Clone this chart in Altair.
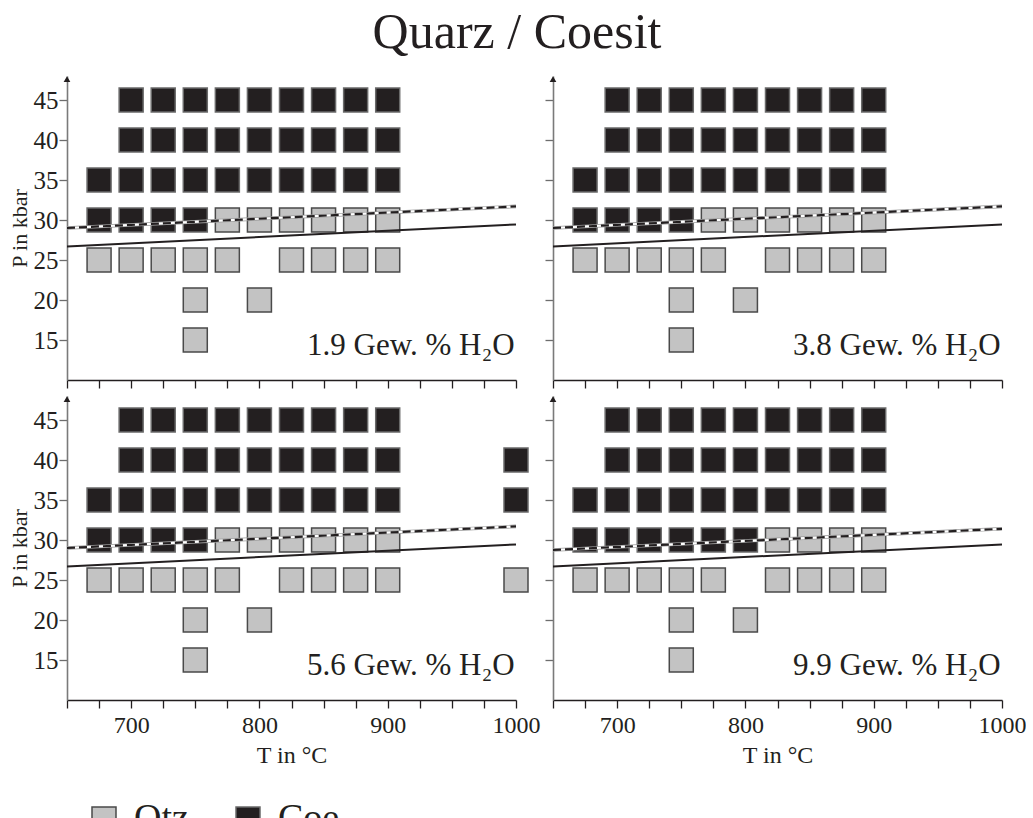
import altair as alt
import pandas as pd

FONT = "Liberation Serif"
INK = "#231f20"

# ---- data ----
PANEL_LABELS = ["1.9 Gew. % H₂O", "3.8 Gew. % H₂O", "5.6 Gew. % H₂O", "9.9 Gew. % H₂O"]

# common sample grid (T in °C for each pressure row)
COE_45 = [700, 725, 750, 775, 800, 825, 850, 875, 900]
COE_40 = [700, 725, 750, 775, 800, 825, 850, 875, 900]
COE_35 = [675, 700, 725, 750, 775, 800, 825, 850, 875, 900]
COE_30 = [675, 700, 725, 750]
QTZ_30 = [775, 800, 825, 850, 875, 900]
QTZ_25 = [675, 700, 725, 750, 775, 825, 850, 875, 900]
QTZ_20 = [750, 800]
QTZ_15 = [750]

# panel-specific differences
COE_40_EXTRA_56 = [1000]
COE_35_EXTRA_56 = [1000]
QTZ_25_EXTRA_56 = [1000]
COE_30_99 = [675, 700, 725, 750, 775, 800]
QTZ_30_99 = [825, 850, 875, 900]

# boundary lines (T endpoints, P endpoints per panel)
LINE_T = [650, 1000]
SOLID_P = [[26.7, 29.45], [26.7, 29.45], [26.7, 29.45], [26.7, 29.45]]
DASHED_P = [[29.0, 31.7], [29.0, 31.7], [29.0, 31.7], [28.75, 31.4]]

X_TICKS = [650, 675, 700, 725, 750, 775, 800, 825, 850, 875, 900, 925, 950, 975, 1000]
Y_TICKS = [15, 20, 25, 30, 35, 40, 45]
PHASES = ["Qtz", "Coe"]


def rows(phase, P, Ts):
    return [{"T": t, "P": P, "phase": phase} for t in Ts]


def panel_samples(i):
    recs = []
    recs += rows("Coe", 45, COE_45)
    recs += rows("Coe", 40, COE_40)
    recs += rows("Coe", 35, COE_35)
    if i == 3:
        recs += rows("Coe", 30, COE_30_99)
        recs += rows("Qtz", 30, QTZ_30_99)
    else:
        recs += rows("Coe", 30, COE_30)
        recs += rows("Qtz", 30, QTZ_30)
    recs += rows("Qtz", 25, QTZ_25)
    recs += rows("Qtz", 20, QTZ_20)
    recs += rows("Qtz", 15, QTZ_15)
    if i == 2:
        recs += rows("Coe", 40, COE_40_EXTRA_56)
        recs += rows("Coe", 35, COE_35_EXTRA_56)
        recs += rows("Qtz", 25, QTZ_25_EXTRA_56)
    return pd.DataFrame(recs)


XS = alt.Scale(domain=[650, 1000], nice=False, zero=False)
YS = alt.Scale(domain=[10, 48], nice=False, zero=False)

LEG = alt.Legend(title=None, orient="none", legendX=18, legendY=724,
                 direction="horizontal", symbolType="square",
                 symbolSize=576, symbolStrokeWidth=1.5,
                 labelFont=FONT, labelFontSize=38, labelColor=INK,
                 labelOffset=11, columnPadding=40, padding=0)


def make_panel(i, xlabels, ylabels):
    xaxis = alt.Axis(
        values=X_TICKS,
        labels=xlabels,
        format="d",
        labelFlush=False,
        labelExpr="datum.value % 100 == 0 && datum.value > 650 ? datum.label : ''",
        title="T in °C" if xlabels else None,
        tickColor=INK, domainColor=INK,
    )
    yaxis = alt.Axis(
        values=Y_TICKS,
        labels=ylabels,
        labelFlush=False,
        title="P in kbar" if ylabels else None,
        tickColor="#6d6d6d", domainColor="#7a7a7a", domainWidth=1.6,
    )
    X = alt.X("T:Q", scale=XS, axis=xaxis)
    Y = alt.Y("P:Q", scale=YS, axis=yaxis)
    sq = alt.Chart(panel_samples(i)).mark_square(size=576, opacity=1, strokeWidth=1.5).encode(
        x=X, y=Y,
        fill=alt.Fill("phase:N", scale=alt.Scale(domain=PHASES, range=["#c3c3c3", INK]), legend=LEG),
        stroke=alt.Stroke("phase:N", scale=alt.Scale(domain=PHASES, range=["#4a4a4a", "#6a6a6a"]), legend=LEG),
    )
    solid_df = pd.DataFrame({"T": LINE_T, "P": SOLID_P[i]})
    dash_df = pd.DataFrame({"T": LINE_T, "P": DASHED_P[i]})
    solid = alt.Chart(solid_df).mark_line(color=INK, strokeWidth=2).encode(x=X, y=Y)
    d_edge = alt.Chart(dash_df).mark_line(color="#9a9a9a", strokeWidth=3.6).encode(x=X, y=Y)
    d_white = alt.Chart(dash_df).mark_line(color="white", strokeWidth=2.2).encode(x=X, y=Y)
    d_black = alt.Chart(dash_df).mark_line(color=INK, strokeWidth=2.2, strokeDash=[8, 4]).encode(x=X, y=Y)
    arrow = alt.Chart(pd.DataFrame({"T": [650], "P": [47.6]})).mark_point(
        shape="triangle-up", filled=True, color=INK, size=45, opacity=1).encode(x=X, y=Y)
    label = alt.Chart(pd.DataFrame({"T": [999], "P": [13.1], "t": [PANEL_LABELS[i]]})).mark_text(
        align="right", baseline="alphabetic", font=FONT, fontSize=31, color=INK).encode(
        text="t:N", x=X, y=Y)
    return alt.layer(sq, solid, d_edge, d_white, d_black, arrow, label).properties(width=449, height=304)


chart = alt.concat(
    make_panel(0, False, True), make_panel(1, False, False),
    make_panel(2, True, True), make_panel(3, True, False),
    columns=2, spacing={"row": 16, "column": 37}, bounds="flush",
).properties(
    title=alt.TitleParams("Quarz / Coesit", font=FONT, fontSize=50, fontWeight="normal",
                          color=INK, anchor="middle", offset=18),
    padding={"left": 8, "top": 8, "right": 0, "bottom": 0},
).configure_view(stroke=None).configure_axis(
    labelFont=FONT, labelFontSize=24, labelColor=INK, labelPadding=5,
    titleFont=FONT, titleFontSize=24, titleFontWeight="normal", titleColor=INK,
    titlePadding=6, tickSize=8, tickWidth=1.3, domainWidth=1.3, grid=False,
).configure_axisY(labelFontSize=25, labelPadding=1, titlePadding=2, titleFontSize=22)

chart.save("out.html", embed_options={"renderer": "svg", "actions": False})
